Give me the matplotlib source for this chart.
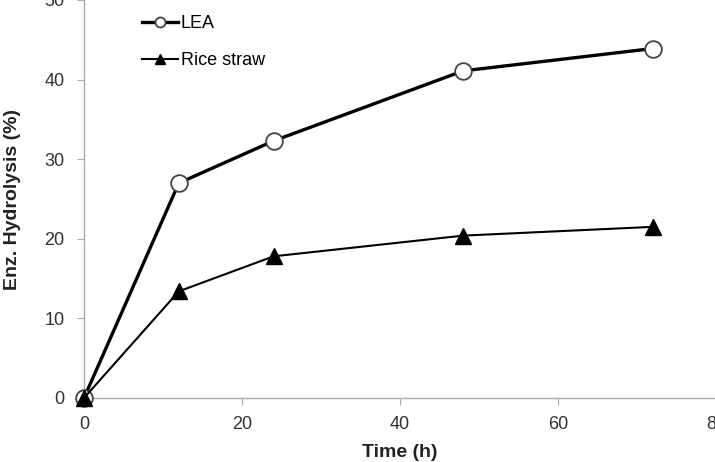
import matplotlib.pyplot as plt

plt.rcParams['font.family'] = ['Liberation Sans', 'DejaVu Sans']

# datos
tiempo = [0, 12, 24, 48, 72]
lea = [0, 27.0, 32.3, 41.1, 43.9]
rice_straw = [0, 13.4, 17.8, 20.4, 21.5]

fig = plt.figure(figsize=(7.15, 4.62), dpi=100)
ax = fig.add_axes([84 / 715, 64 / 462, 632 / 715, 398 / 462])

ax.plot(tiempo, lea, color='black', lw=2.4, marker='o', ms=12,
        mfc='white', mec='#444444', mew=1.3, label='LEA', clip_on=False, zorder=3)
ax.plot(tiempo, rice_straw, color='black', lw=1.5, marker='^', ms=12,
        mfc='black', mec='black', label='Rice straw', clip_on=False, zorder=3)

ax.set_xlim(0, 80)
ax.set_ylim(0, 50)
ax.set_xticks([0, 20, 40, 60, 80])
ax.set_yticks([0, 10, 20, 30, 40, 50])

for s in ['top', 'right']:
    ax.spines[s].set_visible(False)
for s in ['left', 'bottom']:
    ax.spines[s].set_color('#aaaaaa')
    ax.spines[s].set_linewidth(1.0)

ax.tick_params(axis='both', direction='out', length=5, color='#aaaaaa',
               labelsize=13, labelcolor='#333333')
ax.tick_params(axis='y', pad=9)
ax.tick_params(axis='x', pad=8)

ax.set_xlabel('Time (h)', fontsize=14, fontweight='bold', color='#222222')
ax.set_ylabel('Enz. Hydrolysis (%)', fontsize=14, fontweight='bold', color='#222222')
ax.xaxis.set_label_coords(0.5, -0.116)
ax.yaxis.set_label_coords(-0.099, 0.5)

ax.legend(loc='upper left', bbox_to_anchor=(0.092, 0.962), frameon=False,
          fontsize=13, handlelength=2.0, handletextpad=0.15, labelspacing=1.1,
          borderpad=0, borderaxespad=0, markerscale=0.6)

fig.savefig('out.png', dpi=100)
